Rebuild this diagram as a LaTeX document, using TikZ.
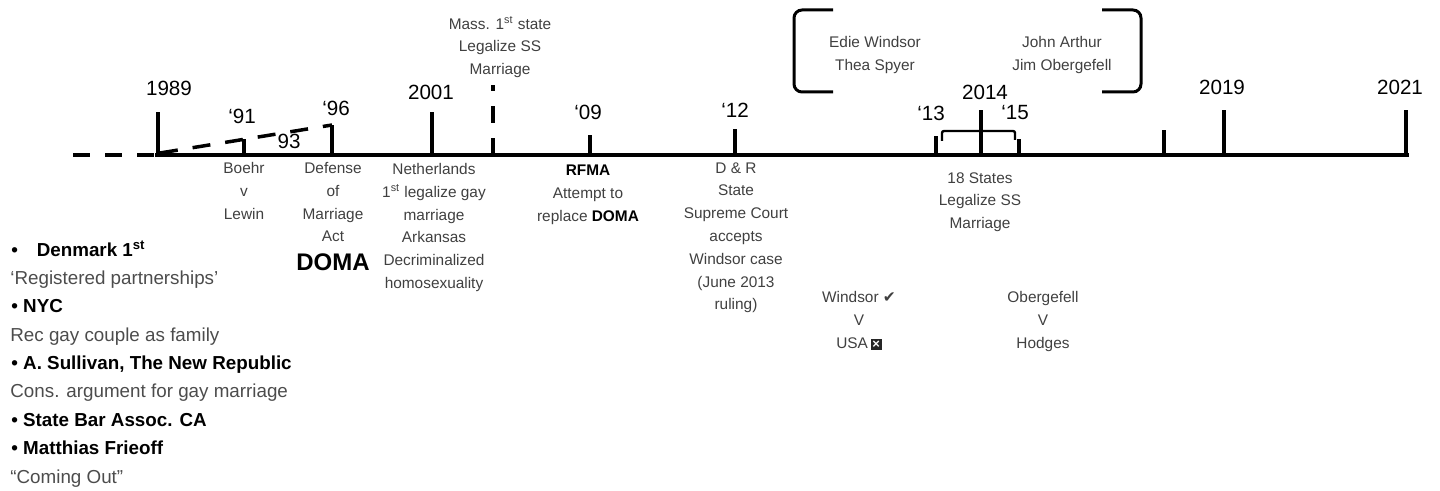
\documentclass[tikz,border=0pt]{standalone}
\usepackage{fontspec}
\setmainfont{Liberation Sans}
\newfontfamily\symf{DejaVu Sans}
\definecolor{labgray}{rgb}{0.25,0.25,0.25}
\definecolor{lstgray}{rgb}{0.3,0.3,0.3}
\newcommand{\usaxbox}{{\setlength{\fboxsep}{0.9pt}\colorbox{black!85}{\textcolor{white}{\fontsize{6.5}{6}\selectfont\bfseries ×}}}}
\begin{document}
\begin{tikzpicture}[x=0.5pt,y=-0.5pt,
  axisline/.style={line width=2pt},
  tickline/.style={line width=1.75pt},
  yr/.style={font=\fontsize{10.3}{12}\selectfont, text=black, inner sep=0pt, anchor=center},
  lab/.style={font=\fontsize{7.7}{11.4}\selectfont, text=labgray, align=center, inner sep=0pt, anchor=north},
  lstb/.style={font=\fontsize{9.4}{11}\selectfont\bfseries, text=black, inner sep=0pt, anchor=base west},
  lstn/.style={font=\fontsize{9.4}{11}\selectfont, text=lstgray, inner sep=0pt, anchor=base west},
  bigbr/.style={line width=1.5pt, rounded corners=4pt},
  smallbr/.style={line width=1.2pt, rounded corners=1pt}]
\useasboundingbox (0,0) rectangle (1440,491);

% axis
\coordinate (dsL) at (73,155);
\coordinate (axL) at (155,155);
\coordinate (axR) at (1409,155);
\draw[axisline, dash pattern=on 8.5pt off 7.5pt] (dsL) -- (axL);
\draw[axisline] (axL) -- (axR);

% ticks
\coordinate (a89) at (158,155);  \coordinate (h89) at (158,112);
\coordinate (a91) at (244,155);  \coordinate (h91) at (244,139);
\coordinate (a96) at (332,155);  \coordinate (h96) at (332,125);
\coordinate (a01) at (432,155);  \coordinate (h01) at (432,112);
\coordinate (a04) at (493,155);  \coordinate (h04) at (493,85);
\coordinate (a09) at (590,155);  \coordinate (h09) at (590,135);
\coordinate (a12) at (735,155);  \coordinate (h12) at (735,129);
\coordinate (a13) at (936,155);  \coordinate (h13) at (936,136);
\coordinate (a14) at (981,155);  \coordinate (h14) at (981,110);
\coordinate (a15) at (1019,155); \coordinate (h15) at (1019,139);
\coordinate (a17) at (1164,155); \coordinate (h17) at (1164,130);
\coordinate (a19) at (1224,155); \coordinate (h19) at (1224,110);
\coordinate (a21) at (1406,155); \coordinate (h21) at (1406,110);
\foreach \t in {89,91,96,01,09,12,13,14,15,17,19,21}
  \draw[tickline] (a\t) -- (h\t);
\draw[tickline, dash pattern=on 8.5pt off 7.5pt] (a04) -- (h04);

% slanted dashed line 1989 -> '96
\coordinate (sl0) at (160,153);
\draw[tickline, dash pattern=on 9pt off 7.5pt] (sl0) -- (h96);

% small bracket '13-'15
\coordinate (sb1) at (942,141); \coordinate (sb2) at (942,131);
\coordinate (sb3) at (1015,131); \coordinate (sb4) at (1015,140);
\draw[smallbr] (sb1) -- (sb2) -- (sb3) -- (sb4);

% big brackets
\coordinate (lb1) at (833,10); \coordinate (lb2) at (794,10);
\coordinate (lb3) at (794,92); \coordinate (lb4) at (833,92);
\draw[bigbr] (lb1) -- (lb2) -- (lb3) -- (lb4);
\coordinate (rb1) at (1102,10); \coordinate (rb2) at (1141,10);
\coordinate (rb3) at (1141,92); \coordinate (rb4) at (1102,92);
\draw[bigbr] (rb1) -- (rb2) -- (rb3) -- (rb4);

% year labels
\node[yr] (y89) at (169,88) {1989};
\node[yr] (y91) at (242,116) {‘91};
\node[yr] (y93) at (289,141) {93};
\node[yr] (y96) at (336,108) {‘96};
\node[yr] (y01) at (431,92) {2001};
\node[yr] (y09) at (588,112) {‘09};
\node[yr] (y12) at (735,110) {‘12};
\node[yr] (y13) at (931,113) {‘13};
\node[yr] (y14) at (985,92) {2014};
\node[yr] (y15) at (1015,113) {‘15};
\node[yr] (y19) at (1222,87) {2019};
\node[yr] (y21) at (1400,87) {2021};

% top labels
\node[lab] (mass) at (500,16) {Mass. 1\textsuperscript{st} state\\Legalize SS\\Marriage};
\node[lab] (edie) at (875,36) {Edie Windsor\\Thea Spyer};
\node[lab] (john) at (1062,36) {John Arthur\\Jim Obergefell};

% labels below axis
\node[lab] (boehr) at (244,162) {Boehr\\v\\Lewin};
\node[lab] (defm) at (333,162) {Defense\\of\\Marriage\\Act};
\node[font=\fontsize{12}{14}\selectfont\bfseries, inner sep=0pt] (doma) at (333,262) {DOMA};
\node[lab] (neth) at (434,163) {Netherlands\\1\textsuperscript{st} legalize gay\\marriage\\Arkansas\\Decriminalized\\homosexuality};
\node[lab] (rfma) at (588,165) {\textbf{\textcolor{black}{RFMA}}\\Attempt to\\replace \textbf{\textcolor{black}{DOMA}}};
\node[lab] (dr) at (736,162) {D \& R\\State\\Supreme Court\\accepts\\Windsor case\\(June 2013\\ruling)};
\node[lab] (eighteen) at (980,172) {18 States\\Legalize SS\\Marriage};
\node[lab] (windsor) at (859,291) {Windsor {\symf ✔}\\V\\USA\,\usaxbox};
\node[lab] (oberg) at (1043,291) {Obergefell\\V\\Hodges};

% left list
\node[lstb] (l1) at (11,257) {\textbullet\quad Denmark 1\textsuperscript{st}};
\node[lstn] (l2) at (10,285) {‘Registered partnerships’};
\node[lstb] (l3) at (11,313) {\textbullet\ NYC};
\node[lstn] (l4) at (10,342) {Rec gay couple as family};
\node[lstb] (l5) at (11,370) {\textbullet\ A. Sullivan, The New Republic};
\node[lstn] (l6) at (10,398) {Cons. argument for gay marriage};
\node[lstb] (l7) at (11,427) {\textbullet\ State Bar Assoc. CA};
\node[lstb] (l8) at (11,455) {\textbullet\ Matthias Frieoff};
\node[lstn] (l9) at (10,483) {“Coming Out”};
\end{tikzpicture}
\end{document}
